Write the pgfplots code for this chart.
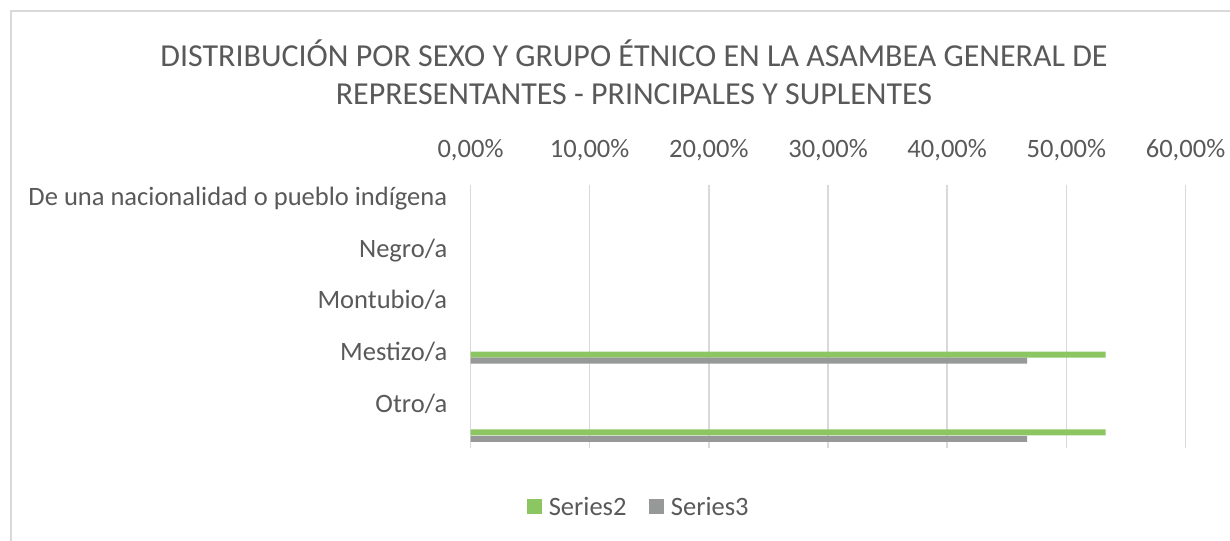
\documentclass[border=0pt]{standalone}
\usepackage{pgfplots}
\pgfplotsset{compat=1.18}
\usepackage{fontspec}
\setmainfont{Carlito}
\definecolor{txt}{HTML}{595959}
\definecolor{grn}{HTML}{8BC663}
\definecolor{gry}{HTML}{979898}
\definecolor{grd}{HTML}{D9D9D9}
\begin{document}
\begin{tikzpicture}[x=0.75pt,y=0.75pt]
\path[use as bounding box] (0,0) rectangle (1230,541);
\draw[grd, line width=1.5pt] (11,-3) -- (11,530) -- (1233,530);
\node[txt, font=\fontsize{24}{29}\selectfont, anchor=base, inner sep=0pt] at (634,474) {DISTRIBUCIÓN POR SEXO Y GRUPO ÉTNICO EN LA ASAMBEA GENERAL DE};
\node[txt, font=\fontsize{24}{29}\selectfont, anchor=base, inner sep=0pt] at (634,436) {REPRESENTANTES - PRINCIPALES Y SUPLENTES};
\begin{axis}[
  at={(352.875pt,69.75pt)}, anchor=south west,
  scale only axis, width=536.25pt, height=197.25pt,
  xmin=0, xmax=60, ymin=185, ymax=448, y dir=reverse,
  axis line style={draw=none},
  major tick length=0pt,
  xtick={0,10,...,60},
  xticklabel pos=top,
  /pgf/number format/assume math mode=true,
  xticklabel={\pgfmathprintnumber[fixed,fixed zerofill,precision=2,use comma]{\tick}\%},
  xticklabel style={anchor=base, inner sep=0pt, yshift=20.25pt},
  ytick={200,252,303,355,407},
  yticklabels={De una nacionalidad o pueblo indígena, Negro/a, Montubio/a, Mestizo/a, Otro/a},
  yticklabel style={anchor=mid east, inner sep=0pt, xshift=-17.25pt, yshift=-1.5pt},
  ticklabel style={font=\fontsize{19.9}{24}\selectfont, text=txt},
  xmajorgrids, ymajorgrids=false,
  grid style={grd, line width=1.2pt},
  legend columns=2,
  legend style={at={(0.236,-0.224)}, anchor=center, draw=none, fill=none,
    font=\fontsize{19.9}{24}\selectfont, text=txt,
    /tikz/every odd column/.append style={column sep=3pt},
    /tikz/every even column/.append style={column sep=15pt}},
  legend image code/.code={\fill[#1] (0pt,-5.6pt) rectangle (11.25pt,5.6pt);},
]
\addplot[xbar, bar width=6, bar shift=0pt, fill=grn, draw=none] coordinates {(53.3,354.7) (53.3,432.5)};
\addlegendentry{Series2}
\addplot[xbar, bar width=6, bar shift=0pt, fill=gry, draw=none] coordinates {(46.7,360.7) (46.7,438.9)};
\addlegendentry{Series3}
\end{axis}
\end{tikzpicture}
\end{document}
